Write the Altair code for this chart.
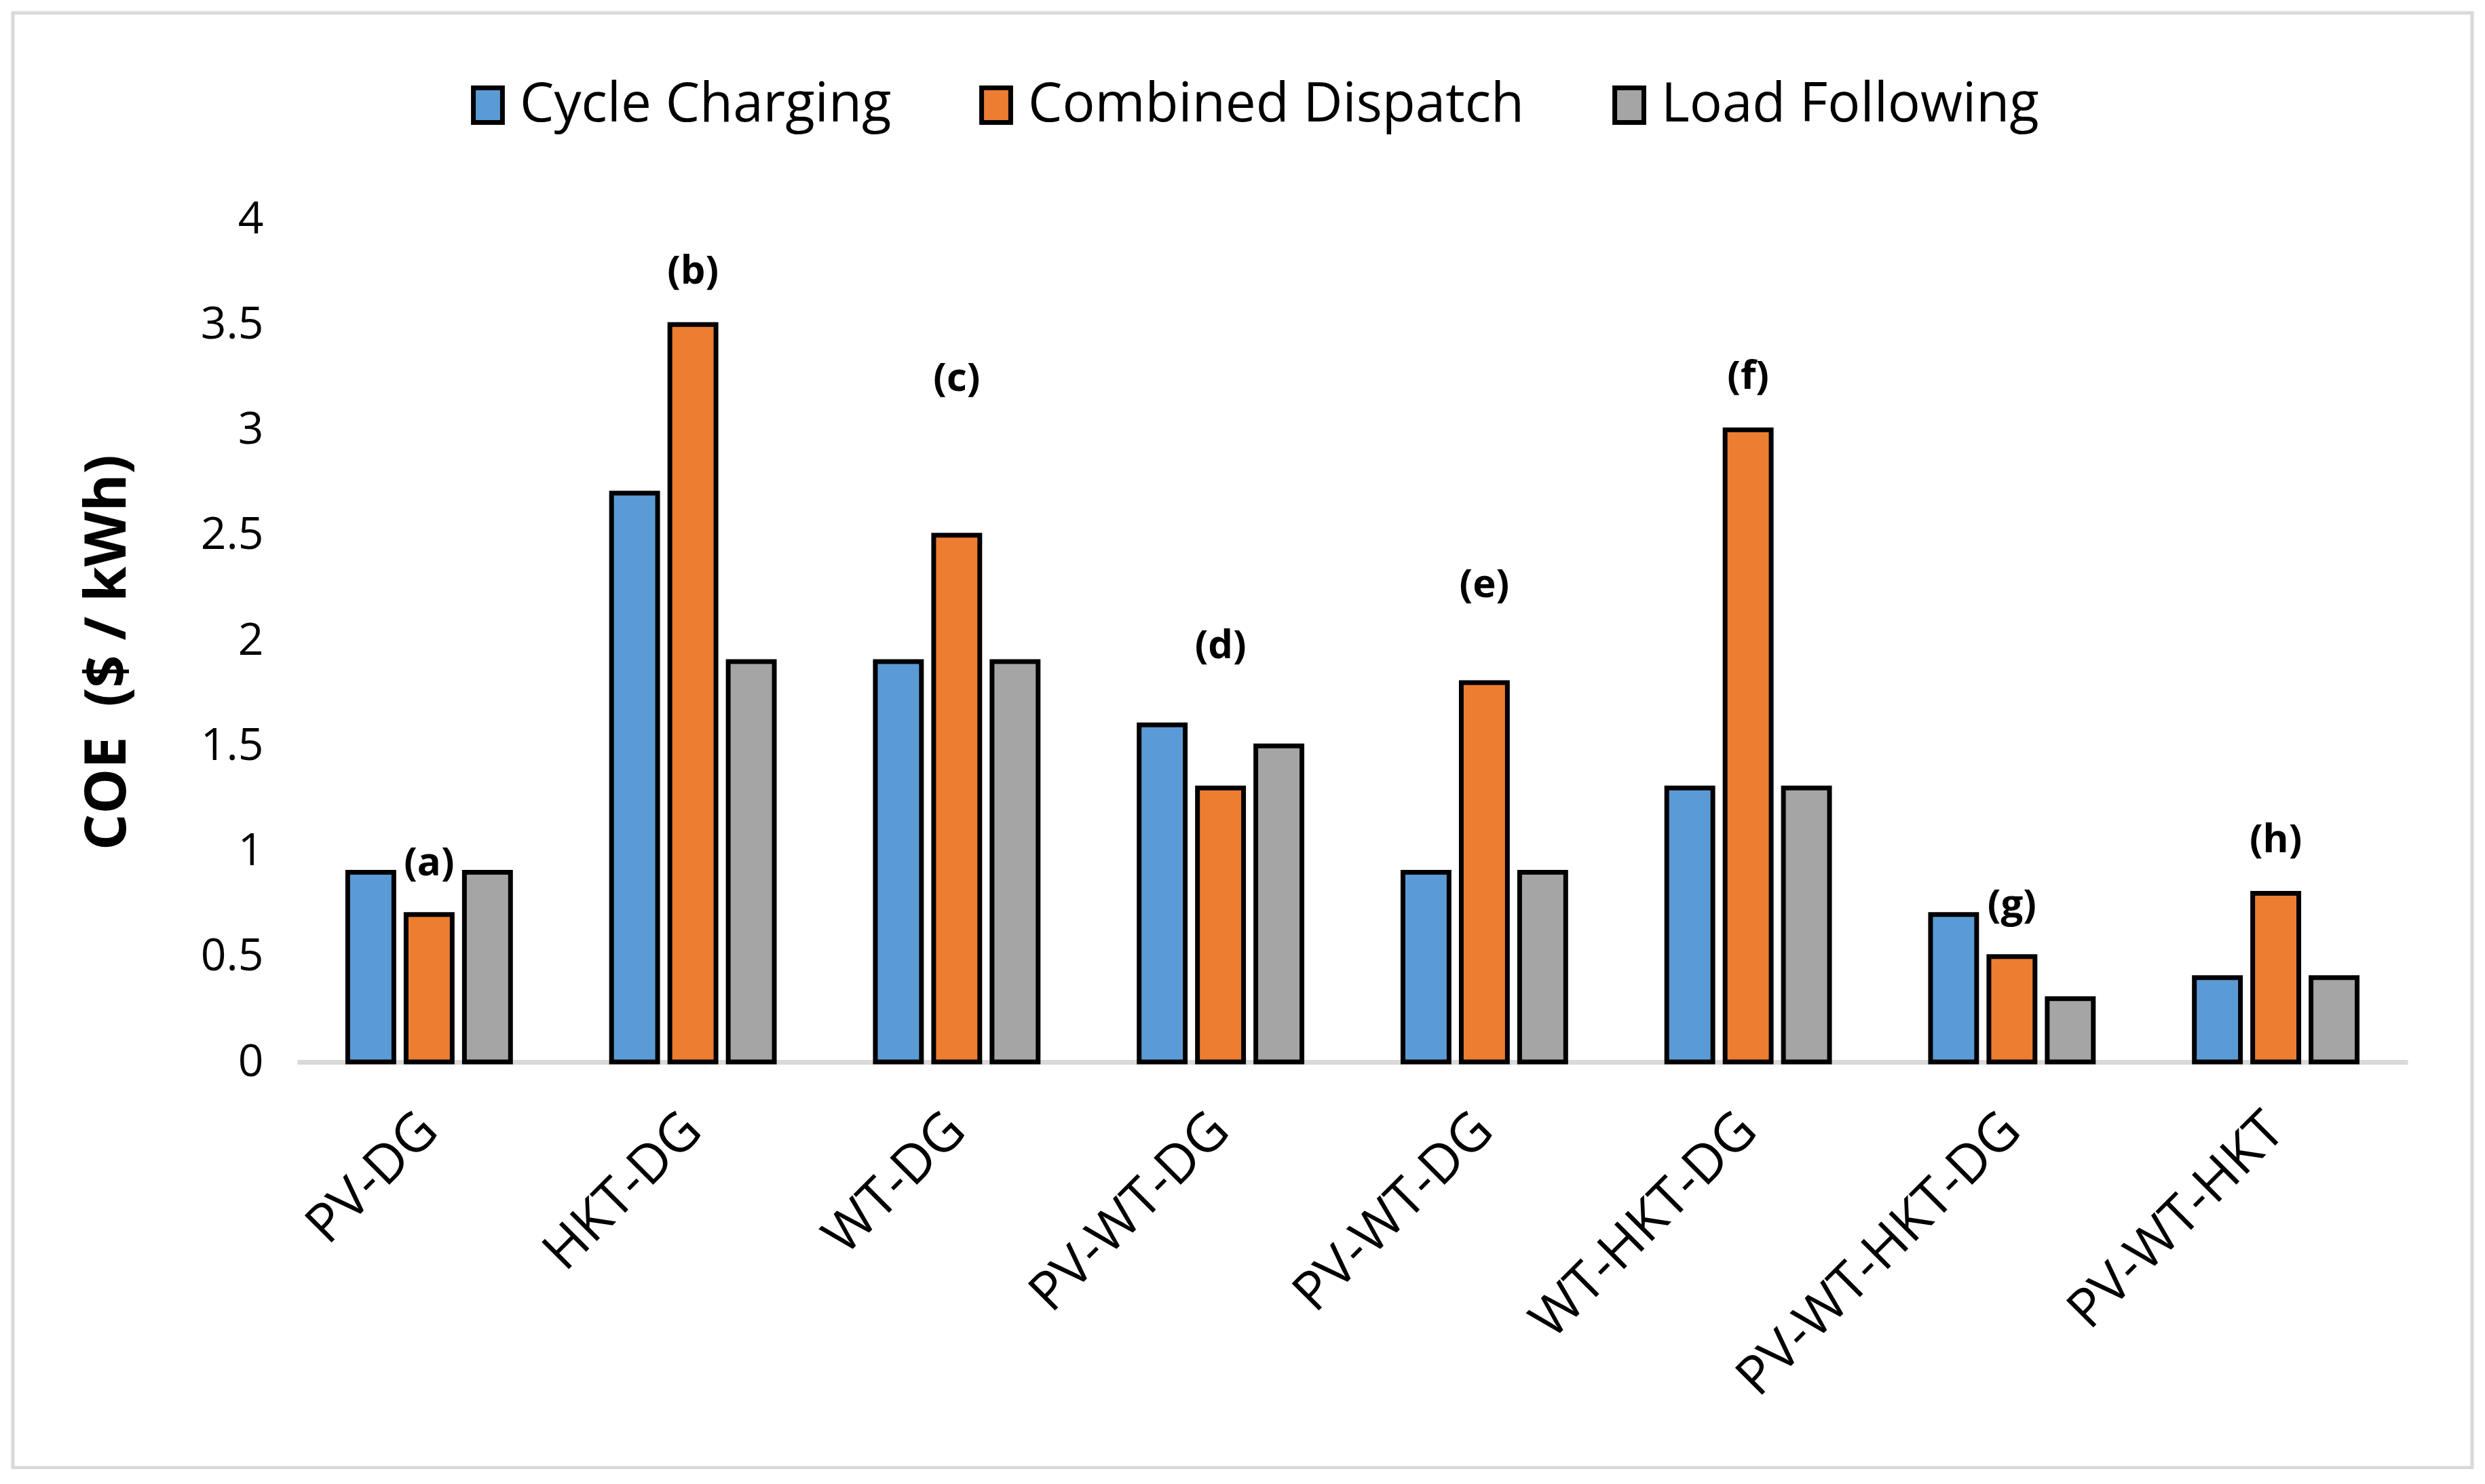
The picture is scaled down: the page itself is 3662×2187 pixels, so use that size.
import json
import altair as alt
import pandas as pd

# ---- data ----
categories = ["PV-DG", "HKT-DG", "WT-DG", "PV-WT-DG", "PV-WT-DG",
              "WT-HKT-DG", "PV-WT-HKT-DG", "PV-WT-HKT"]
series = ["Cycle Charging", "Combined Dispatch", "Load Following"]
cycle_charging = [0.9, 2.7, 1.9, 1.6, 0.9, 1.3, 0.7, 0.4]
combined_dispatch = [0.7, 3.5, 2.5, 1.3, 1.8, 3.0, 0.5, 0.8]
load_following = [0.9, 1.9, 1.9, 1.5, 0.9, 1.3, 0.3, 0.4]
colors = ["#5B9BD5", "#ED7D31", "#A5A5A5"]

annot_labels = ["(a)", "(b)", "(c)", "(d)", "(e)", "(f)", "(g)", "(h)"]
annot_values = [0.94, 3.75, 3.24, 1.97, 2.26, 3.25, 0.74, 1.05]

y_ticks = [0, 0.5, 1, 1.5, 2, 2.5, 3, 3.5, 4]
y_title = "COE \u00a0($ / kWh)"

# ---- tables ----
rows = []
for s, vals in zip(series, [cycle_charging, combined_dispatch, load_following]):
    for i, v in enumerate(vals):
        rows.append({"cat": i, "series": s, "value": v})
bars_df = pd.DataFrame(rows)
annot_df = pd.DataFrame({"cat": list(range(len(categories))),
                         "label": annot_labels, "value": annot_values})

label_expr = json.dumps(categories) + "[datum.value]"
FONT = "Open Sans"

x_enc = alt.X("cat:O", title=None,
              scale=alt.Scale(paddingInner=0.383, paddingOuter=0.1915),
              axis=alt.Axis(labelExpr=label_expr))
y_enc = alt.Y("value:Q", title=y_title,
              scale=alt.Scale(domain=[0, 4], nice=False),
              axis=alt.Axis(values=y_ticks, format="~g"))

bars = alt.Chart(bars_df).mark_bar(stroke="black", strokeWidth=7).encode(
    x=x_enc,
    xOffset=alt.XOffset("series:N", sort=series,
                        scale=alt.Scale(paddingInner=0.21, paddingOuter=0)),
    y=y_enc,
    color=alt.Color("series:N", sort=series,
                    scale=alt.Scale(domain=series, range=colors),
                    legend=alt.Legend(title=None, orient="none",
                                      direction="horizontal",
                                      legendX=241, legendY=-208,
                                      symbolType="M-0.84,-1H0.84V1H-0.84Z",
                                      symbolSize=2600,
                                      symbolStrokeColor="black",
                                      symbolStrokeWidth=7,
                                      symbolOpacity=1,
                                      labelFont=FONT, labelFontSize=80,
                                      labelColor="black", labelLimit=2000,
                                      labelOffset=7, columnPadding=114,
                                      padding=0)),
)

texts = alt.Chart(annot_df).mark_text(
    font=FONT, fontSize=58, fontWeight="bold", color="black",
    align="center", baseline="middle"
).encode(x=x_enc, y=y_enc, text="label:N")

frame = alt.Chart(pd.DataFrame({"f": [0]})).mark_rect(
    filled=False, stroke="#D9D9D9", strokeWidth=5
).encode(x=alt.value(-419), x2=alt.value(3205),
         y=alt.value(-304), y2=alt.value(1840))

chart = alt.layer(frame, bars, texts).properties(
    width=3110, height=1242,
    autosize=alt.AutoSizeParams(type="none"),
    padding={"left": 430, "top": 315, "right": 100, "bottom": 600},
).configure_view(stroke=None).configure_axisX(
    domainColor="#D9D9D9", domainWidth=7, ticks=False, grid=False,
    labelAngle=-45, labelAlign="right", labelBaseline="middle",
    labelFont=FONT, labelFontSize=79, labelColor="black", labelLimit=2000,
    labelPadding=88, zindex=1,
).configure_axisY(
    domain=False, ticks=False, grid=False,
    labelFont=FONT, labelFontSize=66, labelColor="black", labelPadding=50,
    titleFont=FONT, titleFontSize=84, titleFontWeight="bold",
    titleColor="black", titleX=-279, titleY=638, titleAngle=270,
    titleAlign="center", titleBaseline="middle", titleLimit=3000,
)

chart.save("out.html", embed_options={"renderer": "svg", "actions": False})
